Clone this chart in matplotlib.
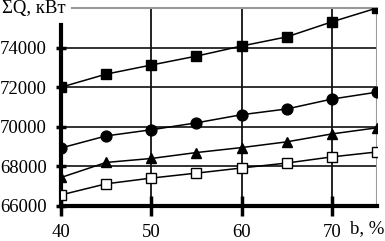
import matplotlib
matplotlib.use("Agg")
from matplotlib import pyplot as plt

# b, % and total heat load for four variants
b = [40, 45, 50, 55, 60, 65, 70, 75]
q_sq = [72000, 72660, 73120, 73570, 74080, 74540, 75300, 76000]
q_circ = [68930, 69540, 69850, 70200, 70610, 70900, 71400, 71750]
q_tri = [67440, 68200, 68400, 68700, 68950, 69240, 69640, 69950]
q_open = [66560, 67120, 67410, 67660, 67920, 68170, 68480, 68730]

xticks = [40, 50, 60, 70]
yticks = [66000, 68000, 70000, 72000, 74000]

plt.rcParams['font.family'] = ['Liberation Serif', 'DejaVu Serif']

fig = plt.figure(figsize=(3.85, 2.41), dpi=100)
ax = fig.add_axes([61/385, 35/241, 316/385, 198/241])
ax.set_xlim(40, 75)
ax.set_ylim(66000, 76000)

# grid
for y in [68000, 70000, 72000, 74000]:
    ax.axhline(y, color='#222222', lw=1.3, zorder=1)
for x in [50, 60, 70]:
    ax.axvline(x, color='#111111', lw=1.3, zorder=1)
ax.axvline(75, color='#999999', lw=1.5, zorder=1)
ax.plot([0.036, 1], [1, 1], transform=ax.transAxes, color='#999999', lw=1.5, clip_on=False)

ax.plot(b, q_sq, '-s', color='black', lw=1.1, ms=7.8, zorder=3)
ax.plot(b, q_circ, '-o', color='black', lw=1.1, ms=7.8, zorder=3)
ax.plot(b, q_tri, '-^', color='black', lw=1.1, ms=7.8, zorder=3)
ax.plot(b, q_open, '-s', color='black', mfc='white', mew=1.0, lw=1.1, ms=6.8, zorder=3)

for s in ['top', 'right']:
    ax.spines[s].set_visible(False)
ax.spines['left'].set_linewidth(3)
ax.spines['left'].set_bounds(66000, 75130)
ax.spines['bottom'].set_linewidth(3)
for sp in ax.spines.values():
    sp.set_zorder(2)

ax.set_xticks(xticks)
ax.set_yticks(yticks)
ax.tick_params(axis='x', direction='inout', length=14, width=2.5, labelsize=13.5, pad=6)
ax.tick_params(axis='y', direction='inout', length=7, width=2.5, labelsize=13.5, pad=6.5)

fig.text(2/385, 1 - 9/241, 'ΣQ, кВт', fontsize=13.5, va='center', ha='left')
fig.text(384/385, 1 - 229/241, 'b, %', fontsize=13.5, va='center', ha='right')

fig.savefig('out.png', dpi=100)
